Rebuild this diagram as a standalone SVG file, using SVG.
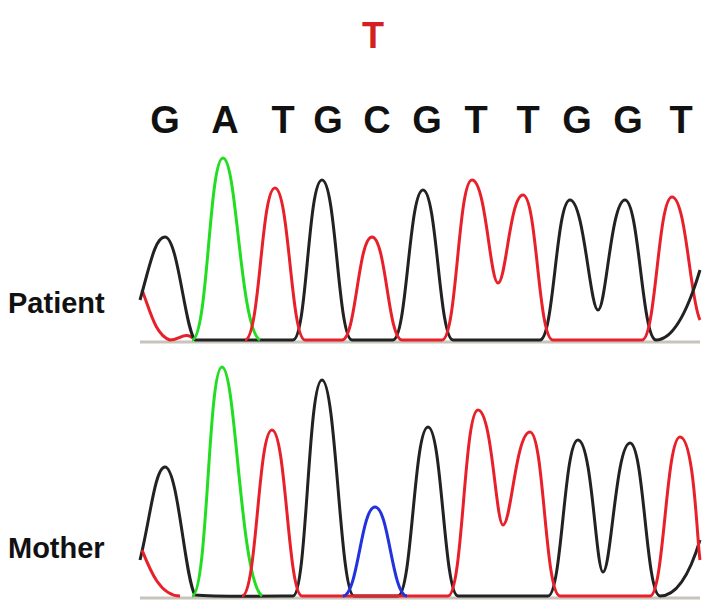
<svg xmlns="http://www.w3.org/2000/svg" width="725" height="613" viewBox="0 0 725 613">
<style>
.t{font-family:"Liberation Sans",Arial,sans-serif;font-weight:bold;text-anchor:middle}
.l{font-family:"Liberation Sans",Arial,sans-serif;font-weight:bold}
path{fill:none;stroke-width:3;stroke-linejoin:round}
.k{stroke:#222}.r{stroke:#e8202a}.g{stroke:#22dd22}.b{stroke:#2233dd}
.base{stroke:#c8c4bc;stroke-width:3}
</style>
<rect width="725" height="613" fill="#fff"/>
<text class="t" x="373" y="48" font-size="36" fill="#d42020">T</text>
<g font-size="38" fill="#111">
<text class="t" x="165" y="133">G</text><text class="t" x="225" y="133">A</text>
<text class="t" x="283" y="133">T</text><text class="t" x="328" y="133">G</text>
<text class="t" x="377" y="133">C</text><text class="t" x="427" y="133">G</text>
<text class="t" x="476" y="133">T</text><text class="t" x="528" y="133">T</text>
<text class="t" x="577" y="133">G</text><text class="t" x="628" y="133">G</text>
<text class="t" x="681" y="133">T</text>
</g>
<text class="l" x="8" y="313" font-size="29" fill="#111">Patient</text>
<text class="l" x="8" y="558" font-size="29" fill="#111">Mother</text>
<g id="patient">
<line class="base" x1="140" y1="342" x2="700" y2="342"/>
<path class="r" d="M142 290 C150 310 155 335 170 340 C180 340 185 330 195 340"/>
<path class="k" d="M140 300 C150 265 155 237 165 237 C178 237 185 330 195 340 C215 340 280 340 293 340 C307 340 308 180 322 180 C336 180 338 340 352 340 C380 340 390 340 393 340 C407 340 409 190 423 190 C437 190 439 340 453 340 C520 340 530 340 540 340 C554 340 556 200 570 200 C584 200 590 310 598 310 C606 310 611 200 625 200 C639 200 642 340 656 340"/>
<path class="g" d="M192 340 C208 340 209 158 223 158 C237 158 240 330 260 340"/>
<path class="r" d="M245 340 C260 340 261 188 275 188 C289 188 291 340 305 340 C320 340 335 340 342 340 C356 340 358 237 372 237 C386 237 388 340 402 340 C420 340 435 340 442 340 C457 340 458 180 472 180 C486 180 490 283 498 283 C506 283 510 195 523 195 C537 195 538 340 553 340 C600 340 630 340 642 340 C656 340 658 197 672 197 C686 197 690 300 700 320"/>
<path class="k" d="M656 340 C670 340 685 320 700 270"/>
</g>
<g id="mother">
<line class="base" x1="140" y1="598" x2="700" y2="598"/>
<path class="k" d="M140 560 C150 520 155 467 165 467 C178 467 185 580 195 595 C215 597 280 596 293 596 C307 596 308 380 322 380 C336 380 340 596 354 596 C390 596 395 596 398 596 C412 596 414 427 428 427 C442 427 444 596 458 596 C520 596 540 596 548 596 C562 596 564 440 578 440 C592 440 596 572 603 572 C611 572 616 443 630 443 C644 443 646 596 660 596 C675 596 688 580 700 540"/>
<path class="r" d="M142 550 C150 570 160 596 180 596"/>
<path class="g" d="M192 596 C208 596 208 367 222 367 C236 367 240 580 262 596"/>
<path class="r" d="M242 596 C257 596 258 430 272 430 C286 430 288 596 302 596 C380 596 440 596 448 596 C463 596 464 410 478 410 C492 410 496 525 503 525 C511 525 516 432 530 432 C544 432 545 596 560 596 C610 596 640 596 650 596 C664 596 666 437 680 437 C694 437 697 540 700 560"/>
<path class="b" d="M343 596 C358 596 361 507 375 507 C389 507 392 596 407 596"/>
</g>
</svg>
